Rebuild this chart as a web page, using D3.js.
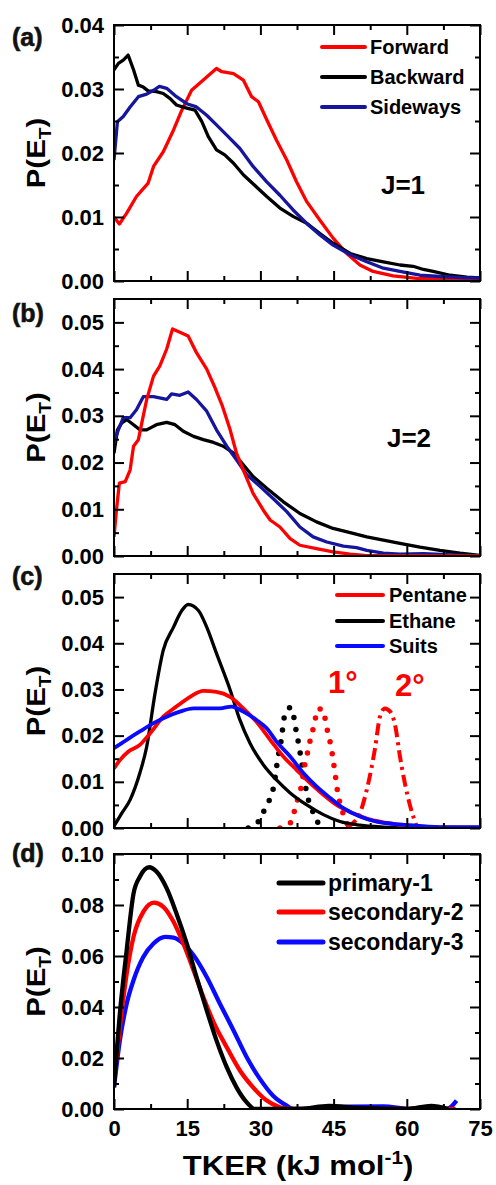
<!DOCTYPE html>
<html>
<head>
<meta charset="utf-8">
<script src="https://cdn.jsdelivr.net/npm/d3@7"></script>
<style>
  body { margin: 0; background: #fff; }
  svg { display: block; }
  text { font-family: "Liberation Sans", Arial, sans-serif; font-weight: bold; }
</style>
</head>
<body>
<svg id="chart" width="496" height="1185"></svg>
<script>
// ---- TKER distributions, [TKER (kJ/mol), P(E_T)] ----

// (a) J=1
const forwardJ1 = [[0,0.0100],[1.1,0.0089],[2.6,0.0106],[4.6,0.0132],[7.0,0.0153],[8.1,0.0179],[10.1,0.0202],[12.2,0.0236],[13.9,0.0267],[15.9,0.0298],[18.3,0.0314],[21.0,0.0332],[22.1,0.0327],[24.5,0.0324],[26.5,0.0314],[28.2,0.0288],[29.6,0.0280],[31.3,0.0252],[33.3,0.0220],[35.4,0.0189],[37.4,0.0155],[39.5,0.0124],[42.2,0.0095],[44.9,0.0067],[47.7,0.0043],[50.4,0.0025],[53.1,0.0015],[57.2,0.0008],[62.0,0.0004],[68.9,0.0003],[75,0.0003]];
const backwardJ1 = [[0,0.0330],[0.9,0.0340],[1.9,0.0345],[2.9,0.0353],[4.0,0.0330],[5.0,0.0306],[6.0,0.0303],[7.0,0.0297],[8.7,0.0296],[10.1,0.0293],[11.5,0.0285],[12.8,0.0275],[14.5,0.0271],[16.6,0.0267],[18.0,0.0249],[19.3,0.0226],[21.0,0.0205],[22.7,0.0197],[24.5,0.0184],[26.5,0.0166],[29.2,0.0147],[31.3,0.0132],[34.0,0.0114],[36.7,0.0101],[39.5,0.0090],[42.2,0.0074],[44.9,0.0059],[48.4,0.0043],[51.8,0.0035],[55.2,0.0030],[58.6,0.0025],[61.3,0.0023],[63.4,0.0018],[65.4,0.0015],[68.9,0.0009],[72.3,0.0006],[75,0.0005]];
const sidewaysJ1 = [[0,0.0189],[0.7,0.0249],[1.9,0.0257],[3.3,0.0272],[5.0,0.0288],[6.7,0.0292],[8.1,0.0298],[9.3,0.0304],[10.8,0.0301],[12.8,0.0288],[14.9,0.0277],[16.9,0.0272],[19.0,0.0259],[21.0,0.0244],[23.1,0.0228],[25.8,0.0207],[28.5,0.0179],[31.3,0.0155],[34.0,0.0134],[36.7,0.0111],[39.5,0.0090],[42.2,0.0072],[44.9,0.0056],[48.4,0.0041],[51.8,0.0030],[55.2,0.0020],[58.6,0.0015],[62.7,0.0009],[66.8,0.0007],[72.3,0.0005],[75,0.0005]];

// (b) J=2
const forwardJ2 = [[0,0.0041],[0.5,0.0098],[1.1,0.0156],[2.3,0.0159],[3.3,0.0184],[4.0,0.0235],[5.0,0.0249],[5.7,0.0285],[6.7,0.0335],[8.1,0.0385],[9.4,0.0407],[10.8,0.0443],[12.0,0.0486],[13.5,0.0479],[15.2,0.0471],[16.9,0.0435],[19.0,0.0400],[20.7,0.0360],[22.1,0.0324],[23.8,0.0270],[25.1,0.0220],[26.5,0.0184],[28.5,0.0134],[30.6,0.0098],[32.0,0.0077],[34.0,0.0062],[36.1,0.0037],[38.1,0.0023],[41.5,0.0016],[44.9,0.0009],[48.4,0.0004],[51.8,0.0001],[58.6,0.0001],[75,0]];
const backwardJ2 = [[0,0.0220],[0.7,0.0270],[1.6,0.0285],[2.6,0.0292],[4.0,0.0281],[5.3,0.0270],[6.7,0.0270],[8.7,0.0281],[10.8,0.0286],[12.5,0.0281],[14.2,0.0267],[16.3,0.0256],[18.3,0.0249],[20.4,0.0243],[22.4,0.0235],[24.5,0.0220],[26.5,0.0195],[28.5,0.0170],[31.3,0.0145],[34.7,0.0116],[38.1,0.0091],[41.5,0.0073],[44.9,0.0059],[48.4,0.0050],[51.8,0.0041],[55.2,0.0034],[58.6,0.0027],[62.7,0.0019],[66.8,0.0012],[70.9,0.0006],[75,0.0001]];
const sidewaysJ2 = [[0,0.0242],[0.9,0.0270],[1.9,0.0296],[3.3,0.0296],[4.6,0.0313],[6.0,0.0341],[8.1,0.0341],[10.8,0.0335],[11.8,0.0347],[13.5,0.0344],[15.2,0.0351],[16.9,0.0335],[19.0,0.0310],[21.0,0.0270],[23.1,0.0235],[25.1,0.0206],[27.2,0.0174],[29.9,0.0149],[32.6,0.0123],[35.4,0.0095],[38.1,0.0062],[40.8,0.0041],[43.6,0.0030],[47.0,0.0021],[49.7,0.0018],[51.8,0.0012],[55.2,0.0006],[58.6,0.0004],[63.4,0.0005],[68.2,0.0003],[75,0]];

// (c) comparison
const pentane = [[0,0.0129],[1.2,0.0147],[2.9,0.0165],[5.3,0.0180],[7.4,0.0205],[10.1,0.0241],[12.8,0.0263],[15.6,0.0284],[18.3,0.0297],[21.0,0.0295],[23.8,0.0284],[26.5,0.0259],[29.2,0.0230],[32.0,0.0191],[34.7,0.0155],[37.4,0.0126],[40.2,0.0097],[42.9,0.0072],[45.6,0.0050],[49.0,0.0032],[52.5,0.0018],[55.9,0.0011],[60.7,0.0005],[65.4,0.0002],[75,0.0001]];
const ethane = [[0,0.0004],[1.6,0.0032],[3.3,0.0061],[5.3,0.0119],[6.7,0.0176],[8.4,0.0291],[10.1,0.0385],[12.2,0.0435],[13.9,0.0471],[15.2,0.0484],[17.3,0.0471],[19.0,0.0435],[21.0,0.0378],[23.8,0.0299],[25.8,0.0234],[27.9,0.0183],[30.6,0.0137],[33.3,0.0104],[36.1,0.0076],[39.5,0.0050],[42.9,0.0029],[46.3,0.0014],[50.4,0.0006],[55.2,0.0002],[62.0,0],[75,0]];
const suits = [[0,0.0173],[2.6,0.0191],[5.3,0.0209],[8.1,0.0227],[10.8,0.0241],[13.5,0.0252],[16.3,0.0259],[19.0,0.0259],[21.7,0.0259],[24.1,0.0263],[26.5,0.0252],[29.2,0.0234],[31.3,0.0216],[33.3,0.0187],[36.1,0.0155],[38.8,0.0119],[41.5,0.0090],[44.3,0.0065],[47.0,0.0043],[50.4,0.0025],[53.8,0.0014],[57.2,0.0009],[62.0,0.0005],[67.5,0.0002],[75,0.0002]];
const ethanePeak = [[27.5,0],[29.6,0.0014],[30.9,0.0041],[32.0,0.0065],[32.8,0.0094],[33.2,0.0122],[33.5,0.0147],[34.0,0.0173],[34.4,0.0201],[34.7,0.0228],[35.2,0.0252],[36.2,0.0261],[37.0,0.0232],[37.4,0.0205],[37.9,0.0179],[38.3,0.0152],[38.8,0.0119],[39.6,0.0070],[40.5,0.0043],[41.2,0.0022],[43.2,0]];
const primaryPeak = [[34.0,0],[36.4,0.0014],[37.1,0.0043],[37.8,0.0068],[38.5,0.0097],[38.9,0.0126],[39.5,0.0155],[40.0,0.0180],[40.5,0.0205],[41.2,0.0230],[41.5,0.0256],[42.6,0.0258],[43.4,0.0230],[43.9,0.0201],[44.5,0.0176],[44.9,0.0147],[45.3,0.0119],[45.6,0.0094],[46.0,0.0068],[46.6,0.0043],[47.7,0.0011],[48.4,0]];
const secondaryPeak = [[47.7,0],[49.0,0.0011],[50.1,0.0025],[51.8,0.0083],[53.5,0.0173],[54.5,0.0241],[55.5,0.0259],[56.6,0.0252],[57.6,0.0223],[58.6,0.0155],[59.6,0.0097],[60.7,0.0047],[62.0,0.0004]];

// (d) site-resolved
const primary1 = [[0,0.0085],[1.2,0.0374],[2.6,0.0623],[4.0,0.0845],[5.3,0.0911],[7.2,0.0948],[8.7,0.0931],[10.8,0.0865],[12.8,0.0767],[14.9,0.0649],[16.9,0.0518],[19.0,0.0387],[21.0,0.0269],[23.1,0.0164],[25.1,0.0085],[27.2,0.0026],[28.9,0],[38,0],[44,0.0012],[50,0.0004],[60,0],[65,0.0012],[68.5,0]];
const secondary2 = [[0,0.0111],[1.2,0.0321],[2.6,0.0531],[4.0,0.0675],[6.0,0.0773],[8.2,0.0809],[10.1,0.0793],[12.2,0.0734],[14.2,0.0649],[16.3,0.0544],[18.3,0.0439],[20.4,0.0341],[23.1,0.0242],[25.8,0.0151],[28.5,0.0085],[31.3,0.0033],[34.0,0.0007],[36.1,0],[70,0]];
const secondary3 = [[0,0.0085],[1.2,0.0269],[2.6,0.0413],[4.0,0.0505],[6.0,0.0596],[8.1,0.0649],[10.5,0.0675],[12.2,0.0672],[14.2,0.0649],[16.3,0.0603],[19.0,0.0518],[21.7,0.0413],[24.5,0.0308],[27.2,0.0203],[29.9,0.0118],[32.6,0.0052],[35.4,0.0013],[36.7,0],[41.5,0.0003],[48.4,0.0009],[55.2,0.0010],[60.7,0],[68.2,0],[70.2,0.0033]];

// ---- axis ticks ----
const xMajorTicks = [0, 15, 30, 45, 60, 75];
const xMinorTicks = [7.5, 22.5, 37.5, 52.5, 67.5];
const yTicksA = [0, 0.01, 0.02, 0.03, 0.04];
const yTicksBC = [0, 0.01, 0.02, 0.03, 0.04, 0.05];
const yTicksD = [0, 0.02, 0.04, 0.06, 0.08, 0.10];
const yMinorA = [0.005, 0.015, 0.025, 0.035];
const yMinorBC = [0.005, 0.015, 0.025, 0.035, 0.045];
const yMinorD = [0.01, 0.03, 0.05, 0.07, 0.09];

const RED = "#ff0000", BLACK = "#000000", NAVY = "#16169c", BLUE = "#0a0aff";

const svg = d3.select("#chart");
const x = d3.scaleLinear().domain([0, 75]).range([114, 480]);

const panels = [
  { id: "a", top: 25, bottom: 281, ymax: 0.04, ticks: yTicksA, minor: yMinorA, label: "(a)", labelY: 46,
    series: [
      { data: forwardJ1, color: RED, width: 3.3 },
      { data: backwardJ1, color: BLACK, width: 3.3 },
      { data: sidewaysJ1, color: NAVY, width: 3.3 }
    ],
    legend: { x0: 322, x1: 365, tx: 370, ys: [47, 77, 107], size: 20, lw: 4,
      items: [["Forward", RED], ["Backward", BLACK], ["Sideways", NAVY]] },
    note: { text: "J=1", x: 403, y: 194 } },
  { id: "b", top: 299, bottom: 556, ymax: 0.055, ticks: yTicksBC, minor: yMinorBC, label: "(b)", labelY: 322,
    series: [
      { data: backwardJ2, color: BLACK, width: 3.3 },
      { data: sidewaysJ2, color: NAVY, width: 3.3 },
      { data: forwardJ2, color: RED, width: 3.3 }
    ],
    note: { text: "J=2", x: 409, y: 447 } },
  { id: "c", top: 574, bottom: 828, ymax: 0.055, ticks: yTicksBC, minor: yMinorBC, label: "(c)", labelY: 585,
    smooth: true,
    series: [
      { data: ethanePeak, color: BLACK, width: 5.5, dash: "0 12", cap: "round" },
      { data: primaryPeak, color: RED, width: 5.5, dash: "0 12", cap: "round" },
      { data: secondaryPeak, color: RED, width: 4, dash: "12 5 3 5" },
      { data: ethane, color: BLACK, width: 3.3 },
      { data: pentane, color: RED, width: 3.8 },
      { data: suits, color: BLUE, width: 3.8 }
    ],
    legend: { x0: 337, x1: 383, tx: 389, ys: [595, 621, 646], size: 20, lw: 4,
      items: [["Pentane", RED], ["Ethane", BLACK], ["Suits", BLUE]] } },
  { id: "d", top: 854, bottom: 1109, ymax: 0.1, ticks: yTicksD, minor: yMinorD, label: "(d)", labelY: 862,
    smooth: true, xLabels: true,
    series: [
      { data: secondary3, color: BLUE, width: 4.3 },
      { data: secondary2, color: RED, width: 4.3 },
      { data: primary1, color: BLACK, width: 4.3 }
    ],
    legend: { x0: 279, x1: 323, tx: 328, ys: [883, 912, 942], size: 23, lw: 5,
      items: [["primary-1", BLACK], ["secondary-2", RED], ["secondary-3", BLUE]] } }
];

function styleAxis(g, fontSize) {
  g.select(".domain").remove();
  g.attr("font-family", "Liberation Sans, Arial, sans-serif").attr("font-size", fontSize);
  g.selectAll(".tick line").attr("stroke", "#000").attr("stroke-width", 2);
  g.selectAll(".tick text").attr("fill", "#000").attr("font-weight", "bold");
}

panels.forEach(p => {
  const y = d3.scaleLinear().domain([0, p.ymax]).range([p.bottom, p.top]);
  const g = svg.append("g");

  g.append("clipPath").attr("id", "clip-" + p.id)
    .append("rect").attr("x", 114).attr("y", p.top).attr("width", 366).attr("height", p.bottom - p.top);

  // curves
  const line = d3.line().x(d => x(d[0])).y(d => y(d[1]))
    .curve(p.smooth ? d3.curveMonotoneX : d3.curveLinear);
  const curves = g.append("g").attr("clip-path", `url(#clip-${p.id})`);
  p.series.forEach(s => {
    curves.append("path").datum(s.data)
      .attr("d", line).attr("fill", "none")
      .attr("stroke", s.color).attr("stroke-width", s.width)
      .attr("stroke-linejoin", "round")
      .attr("stroke-linecap", s.cap || "butt")
      .attr("stroke-dasharray", s.dash || null);
  });

  // frame
  g.append("rect").attr("x", 114).attr("y", p.top).attr("width", 366).attr("height", p.bottom - p.top)
    .attr("fill", "none").attr("stroke", "#000").attr("stroke-width", 2);

  // x ticks, bottom and top
  g.append("g").attr("transform", `translate(0,${p.bottom})`)
    .call(d3.axisBottom(x).tickValues(xMajorTicks).tickSize(-10).tickPadding(11)
      .tickFormat(p.xLabels ? d3.format("d") : () => ""))
    .call(a => styleAxis(a, 22));
  g.append("g").attr("transform", `translate(0,${p.bottom})`)
    .call(d3.axisBottom(x).tickValues(xMinorTicks).tickSize(-5).tickFormat(() => ""))
    .call(a => styleAxis(a, 22));
  g.append("g").attr("transform", `translate(0,${p.top})`)
    .call(d3.axisTop(x).tickValues(xMajorTicks).tickSize(-10).tickFormat(() => ""))
    .call(a => styleAxis(a, 22));
  g.append("g").attr("transform", `translate(0,${p.top})`)
    .call(d3.axisTop(x).tickValues(xMinorTicks).tickSize(-5).tickFormat(() => ""))
    .call(a => styleAxis(a, 22));

  // y ticks, left and right
  g.append("g").attr("transform", "translate(114,0)")
    .call(d3.axisLeft(y).tickValues(p.ticks).tickSize(-10).tickPadding(10).tickFormat(d3.format(".2f")))
    .call(a => styleAxis(a, 22));
  g.append("g").attr("transform", "translate(114,0)")
    .call(d3.axisLeft(y).tickValues(p.minor).tickSize(-5).tickFormat(() => ""))
    .call(a => styleAxis(a, 22));
  g.append("g").attr("transform", "translate(480,0)")
    .call(d3.axisRight(y).tickValues(p.ticks).tickSize(-10).tickFormat(() => ""))
    .call(a => styleAxis(a, 22));
  g.append("g").attr("transform", "translate(480,0)")
    .call(d3.axisRight(y).tickValues(p.minor).tickSize(-5).tickFormat(() => ""))
    .call(a => styleAxis(a, 22));

  // y axis title P(E_T)
  const yt = g.append("text")
    .attr("transform", `translate(45,${(p.top + p.bottom) / 2}) rotate(-90) scale(1.13,1)`)
    .attr("text-anchor", "middle").attr("font-size", 26).attr("fill", "#000");
  yt.append("tspan").text("P(E");
  yt.append("tspan").attr("font-size", 17).attr("dy", 6).text("T");
  yt.append("tspan").attr("dy", -6).text(")");

  // panel letter
  g.append("text").attr("x", 12).attr("y", p.labelY).attr("font-size", 25)
    .attr("font-weight", "normal").attr("stroke", "#111").attr("stroke-width", 0.6)
    .attr("fill", "#111").text(p.label);

  // legend
  if (p.legend) {
    const L = p.legend;
    L.items.forEach((it, i) => {
      g.append("line").attr("x1", L.x0).attr("x2", L.x1).attr("y1", L.ys[i]).attr("y2", L.ys[i])
        .attr("stroke", it[1]).attr("stroke-width", L.lw).attr("stroke-linecap", "round");
      g.append("text").attr("x", L.tx).attr("y", L.ys[i] + L.size * 0.36)
        .attr("font-size", L.size).attr("fill", "#000").text(it[0]);
    });
  }

  if (p.note) {
    g.append("text").attr("x", p.note.x).attr("y", p.note.y).attr("text-anchor", "middle")
      .attr("font-size", 26).attr("fill", "#000").text(p.note.text);
  }

  if (p.id === "c") {
    g.append("text").attr("x", 328).attr("y", 693).attr("font-size", 31).attr("fill", RED).text("1°");
    g.append("text").attr("x", 395).attr("y", 696).attr("font-size", 31).attr("fill", RED).text("2°");
  }
});

// x axis title
const xt = svg.append("text")
  .attr("transform", "translate(298,1175) scale(1.15,1)")
  .attr("text-anchor", "middle").attr("font-size", 27).attr("fill", "#000");
xt.append("tspan").text("TKER (kJ mol");
xt.append("tspan").attr("font-size", 18).attr("dy", -11).text("-1");
xt.append("tspan").attr("dy", 11).text(")");
</script>
</body>
</html>
